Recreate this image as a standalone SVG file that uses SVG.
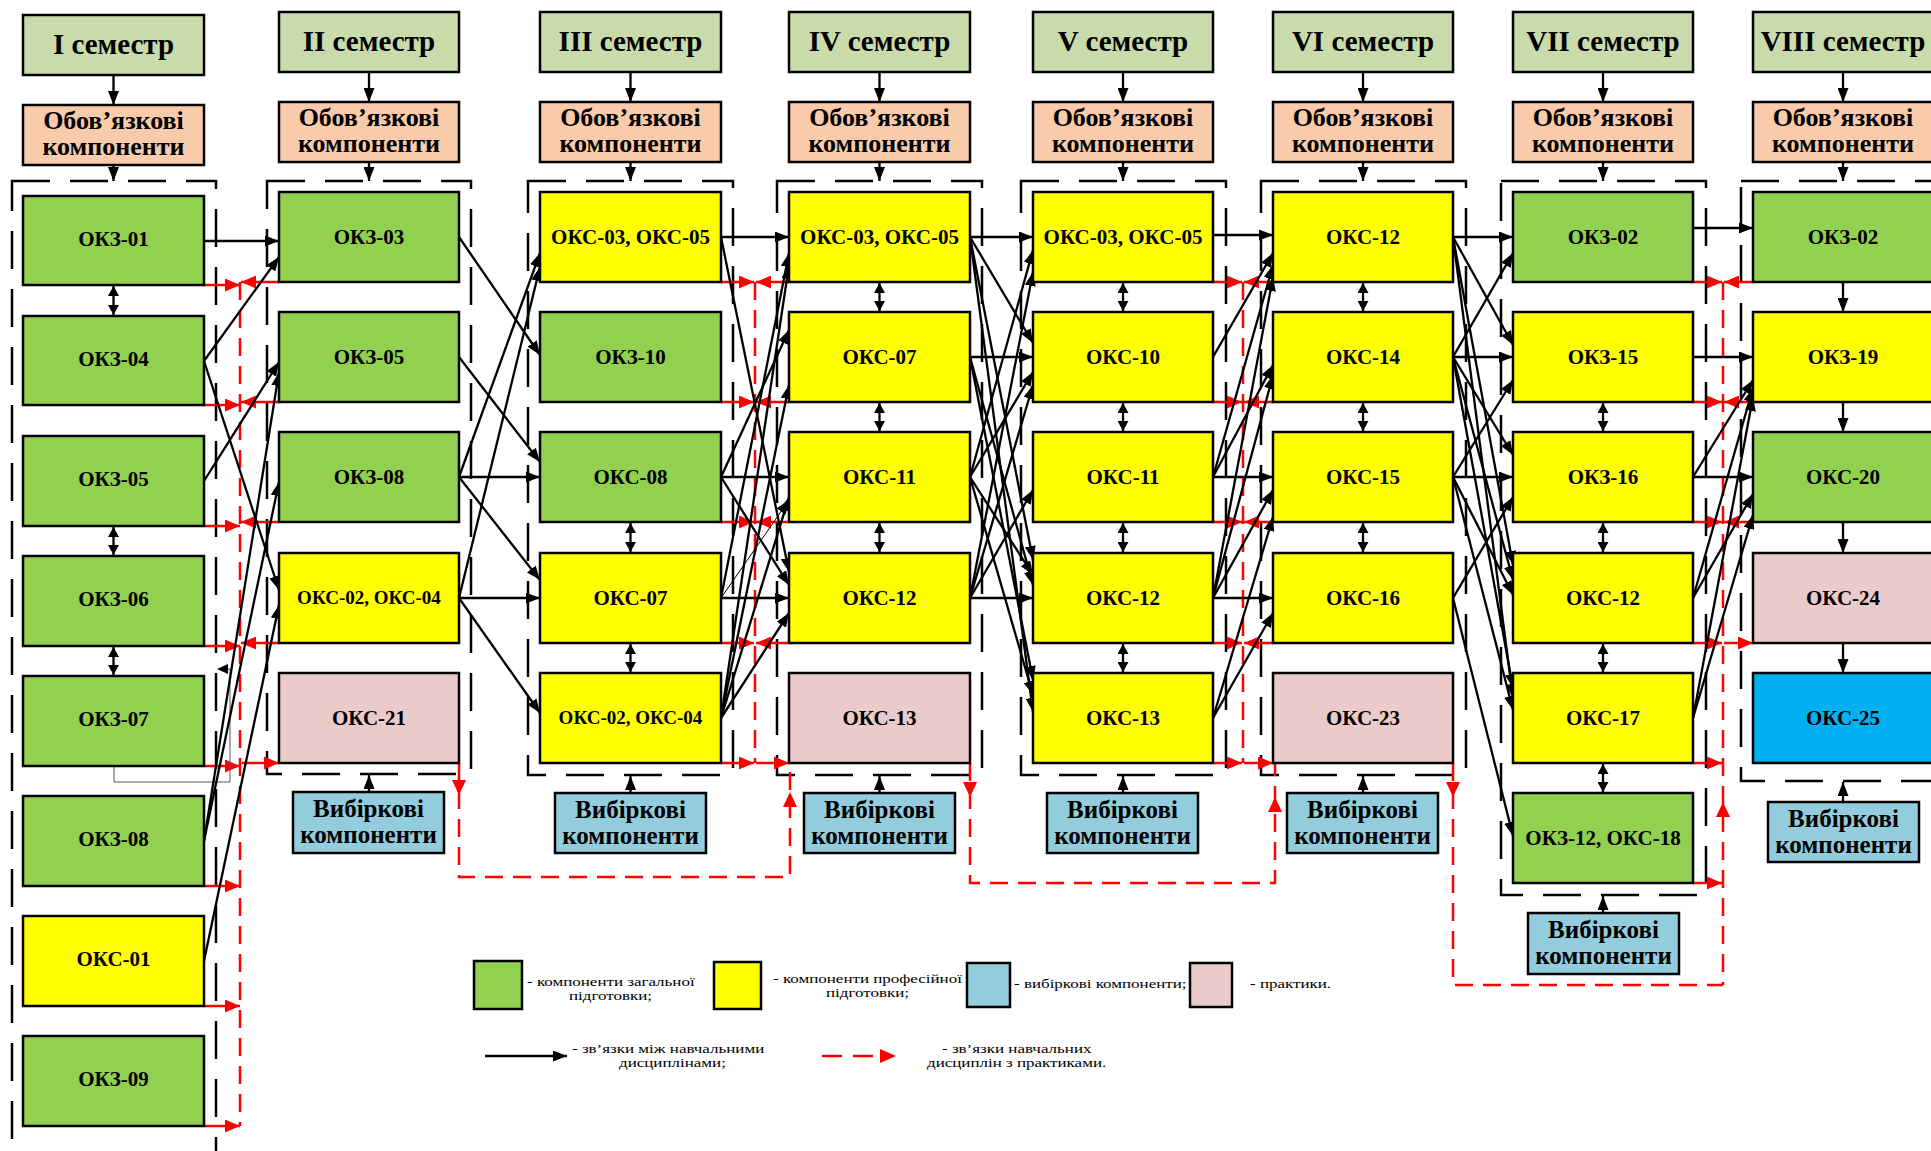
<svg xmlns="http://www.w3.org/2000/svg" width="1931" height="1151" viewBox="0 0 1931 1151">
<style>
.bx{stroke:#000;stroke-width:2.5}
.hd{fill:#CADBAB}
.ob{fill:#F9CBAA}
.g{fill:#92D050}
.y{fill:#FFFF00}
.p{fill:#EBCBC9}
.b{fill:#93CDDD}
.c{fill:#00B0F0}
.grp{fill:none;stroke:#000;stroke-width:2.5;stroke-dasharray:38 20}
.ln{stroke:#000;stroke-width:2.3;fill:none;marker-end:url(#ab)}
.thin{stroke:#000;stroke-width:1;fill:none;marker-end:url(#ab)}
.dbl{stroke:#000;stroke-width:2.3;marker-end:url(#ad);marker-start:url(#ad)}
.ra{stroke:#F00;stroke-width:2.5;fill:none;marker-end:url(#ar)}
.rd{stroke:#F00;stroke-width:2.5;fill:none;stroke-dasharray:18 10}
.rh{fill:#F00}
text{font-family:"Liberation Serif","Times New Roman",serif;fill:#000;text-anchor:middle}
.th{font-size:29px;font-weight:bold}
.to{font-size:26px;font-weight:bold}
.te{font-size:25px;font-weight:bold}
.tn{font-size:21px;font-weight:bold}
.ts{font-size:19px;font-weight:bold}
.tl{font-size:17px;text-anchor:start}
</style>
<defs>
<marker id="ab" viewBox="0 0 14 11" refX="14" refY="5.5" markerWidth="14" markerHeight="11" orient="auto-start-reverse" markerUnits="userSpaceOnUse"><path d="M0,0 L14,5.5 L0,11 z" fill="#000"/></marker>
<marker id="ad" viewBox="0 0 10 11" refX="10" refY="5.5" markerWidth="10" markerHeight="11" orient="auto-start-reverse" markerUnits="userSpaceOnUse"><path d="M0,0 L10,5.5 L0,11 z" fill="#000"/></marker>
<marker id="ar" viewBox="0 0 15 13" refX="15" refY="6.5" markerWidth="15" markerHeight="13" orient="auto" markerUnits="userSpaceOnUse"><path d="M0,0 L15,6.5 L0,13 z" fill="#F00"/></marker>
</defs>

<!-- group frames -->
<g id="frames">
<rect class="grp" x="12" y="181" width="204" height="1000"/>
<rect class="grp" x="267" y="181" width="204" height="593"/>
<rect class="grp" x="528" y="181" width="205" height="594"/>
<rect class="grp" x="777" y="181" width="205" height="594"/>
<rect class="grp" x="1021" y="181" width="205" height="594"/>
<rect class="grp" x="1261" y="181" width="205" height="594"/>
<rect class="grp" x="1501" y="181" width="205" height="714"/>
<rect class="grp" x="1741" y="181" width="205" height="600"/>
</g>

<!-- red practice connectors -->
<g id="practice-links">
<path class="rd" d="M240,282 V1126"/>
<path class="rd" d="M755,282 V763"/>
<path class="rd" d="M1243,282 V763"/>
<path class="rd" d="M1723,282 V985"/>
<path class="rd" d="M459,763 V877 H790 V763"/>
<path class="rd" d="M970,763 V883 H1275 V763"/>
<path class="rd" d="M1453,763 V985 H1723"/>
<path class="rh" d="M452,780 L466,780 L459,795 z"/>
<path class="rh" d="M783,807 L797,807 L790,792 z"/>
<path class="rh" d="M963,782 L977,782 L970,797 z"/>
<path class="rh" d="M1268,812 L1282,812 L1275,797 z"/>
<path class="rh" d="M1446,782 L1460,782 L1453,797 z"/>
<path class="rh" d="M1716,817 L1730,817 L1723,802 z"/>
<!-- I/II -->
<line class="ra" x1="204" y1="285" x2="240" y2="285"/>
<line class="ra" x1="204" y1="405" x2="240" y2="405"/>
<line class="ra" x1="204" y1="526" x2="240" y2="526"/>
<line class="ra" x1="204" y1="646" x2="240" y2="646"/>
<line class="ra" x1="204" y1="766" x2="240" y2="766"/>
<line class="ra" x1="204" y1="886" x2="240" y2="886"/>
<line class="ra" x1="204" y1="1006" x2="240" y2="1006"/>
<line class="ra" x1="204" y1="1126" x2="240" y2="1126"/>
<line class="ra" x1="279" y1="282" x2="241" y2="282"/>
<line class="ra" x1="279" y1="402" x2="241" y2="402"/>
<line class="ra" x1="279" y1="522" x2="241" y2="522"/>
<line class="ra" x1="279" y1="643" x2="241" y2="643"/>
<line class="ra" x1="242" y1="763" x2="279" y2="763"/>
<!-- III/IV -->
<line class="ra" x1="721" y1="282" x2="754" y2="282"/>
<line class="ra" x1="721" y1="402" x2="754" y2="402"/>
<line class="ra" x1="721" y1="522" x2="754" y2="522"/>
<line class="ra" x1="721" y1="643" x2="754" y2="643"/>
<line class="ra" x1="721" y1="763" x2="754" y2="763"/>
<line class="ra" x1="789" y1="282" x2="756" y2="282"/>
<line class="ra" x1="789" y1="402" x2="756" y2="402"/>
<line class="ra" x1="789" y1="522" x2="756" y2="522"/>
<line class="ra" x1="789" y1="643" x2="756" y2="643"/>
<line class="ra" x1="756" y1="763" x2="789" y2="763"/>
<!-- V/VI -->
<line class="ra" x1="1213" y1="282" x2="1242" y2="282"/>
<line class="ra" x1="1213" y1="402" x2="1242" y2="402"/>
<line class="ra" x1="1213" y1="522" x2="1242" y2="522"/>
<line class="ra" x1="1213" y1="643" x2="1242" y2="643"/>
<line class="ra" x1="1213" y1="763" x2="1242" y2="763"/>
<line class="ra" x1="1273" y1="282" x2="1244" y2="282"/>
<line class="ra" x1="1273" y1="402" x2="1244" y2="402"/>
<line class="ra" x1="1273" y1="522" x2="1244" y2="522"/>
<line class="ra" x1="1273" y1="643" x2="1244" y2="643"/>
<line class="ra" x1="1244" y1="763" x2="1273" y2="763"/>
<!-- VII/VIII -->
<line class="ra" x1="1693" y1="282" x2="1722" y2="282"/>
<line class="ra" x1="1693" y1="402" x2="1722" y2="402"/>
<line class="ra" x1="1693" y1="522" x2="1722" y2="522"/>
<line class="ra" x1="1693" y1="643" x2="1722" y2="643"/>
<line class="ra" x1="1693" y1="763" x2="1722" y2="763"/>
<line class="ra" x1="1693" y1="883" x2="1722" y2="883"/>
<line class="ra" x1="1753" y1="282" x2="1724" y2="282"/>
<line class="ra" x1="1753" y1="402" x2="1724" y2="402"/>
<line class="ra" x1="1753" y1="522" x2="1724" y2="522"/>
<line class="ra" x1="1724" y1="643" x2="1753" y2="643"/>
</g>

<!-- black discipline connectors -->
<g id="connectors">
<!-- headers -->
<line class="ln" x1="113.5" y1="75" x2="113.5" y2="105"/>
<line class="ln" x1="113.5" y1="165" x2="113.5" y2="181"/>
<line class="ln" x1="369" y1="72" x2="369" y2="102"/>
<line class="ln" x1="369" y1="162" x2="369" y2="181"/>
<line class="ln" x1="630.5" y1="72" x2="630.5" y2="102"/>
<line class="ln" x1="630.5" y1="162" x2="630.5" y2="181"/>
<line class="ln" x1="879.5" y1="72" x2="879.5" y2="102"/>
<line class="ln" x1="879.5" y1="162" x2="879.5" y2="181"/>
<line class="ln" x1="1123" y1="72" x2="1123" y2="102"/>
<line class="ln" x1="1123" y1="162" x2="1123" y2="181"/>
<line class="ln" x1="1363" y1="72" x2="1363" y2="102"/>
<line class="ln" x1="1363" y1="162" x2="1363" y2="181"/>
<line class="ln" x1="1603" y1="72" x2="1603" y2="102"/>
<line class="ln" x1="1603" y1="162" x2="1603" y2="181"/>
<line class="ln" x1="1843" y1="72" x2="1843" y2="102"/>
<line class="ln" x1="1843" y1="162" x2="1843" y2="181"/>
<!-- electives -->
<line class="ln" x1="369" y1="792" x2="369" y2="775"/>
<line class="ln" x1="630.5" y1="793" x2="630.5" y2="776"/>
<line class="ln" x1="879.5" y1="793" x2="879.5" y2="776"/>
<line class="ln" x1="1123" y1="793" x2="1123" y2="776"/>
<line class="ln" x1="1363" y1="793" x2="1363" y2="776"/>
<line class="ln" x1="1603" y1="913" x2="1603" y2="896"/>
<line class="ln" x1="1843" y1="802" x2="1843" y2="782"/>
<!-- vertical doubles -->
<line class="dbl" x1="113.5" y1="286" x2="113.5" y2="315"/>
<line class="dbl" x1="113.5" y1="527" x2="113.5" y2="555"/>
<line class="dbl" x1="113.5" y1="647" x2="113.5" y2="675"/>
<line class="dbl" x1="630.5" y1="523" x2="630.5" y2="552"/>
<line class="dbl" x1="630.5" y1="644" x2="630.5" y2="672"/>
<line class="dbl" x1="879.5" y1="283" x2="879.5" y2="311"/>
<line class="dbl" x1="879.5" y1="403" x2="879.5" y2="431"/>
<line class="dbl" x1="879.5" y1="523" x2="879.5" y2="552"/>
<line class="dbl" x1="1123" y1="283" x2="1123" y2="311"/>
<line class="dbl" x1="1123" y1="403" x2="1123" y2="431"/>
<line class="dbl" x1="1123" y1="523" x2="1123" y2="552"/>
<line class="dbl" x1="1123" y1="644" x2="1123" y2="672"/>
<line class="dbl" x1="1363" y1="283" x2="1363" y2="311"/>
<line class="dbl" x1="1363" y1="403" x2="1363" y2="431"/>
<line class="dbl" x1="1363" y1="523" x2="1363" y2="552"/>
<line class="dbl" x1="1603" y1="403" x2="1603" y2="431"/>
<line class="dbl" x1="1603" y1="523" x2="1603" y2="552"/>
<line class="dbl" x1="1603" y1="644" x2="1603" y2="672"/>
<line class="dbl" x1="1603" y1="764" x2="1603" y2="792"/>
<line class="ln" x1="1843" y1="282" x2="1843" y2="312"/>
<line class="ln" x1="1843" y1="402" x2="1843" y2="432"/>
<line class="ln" x1="1843" y1="522" x2="1843" y2="553"/>
<line class="ln" x1="1843" y1="643" x2="1843" y2="673"/>
<!-- thin loop from OKZ-07 -->
<polyline points="114,766 114,782 230,782 230,669 219,669" fill="none" stroke="#555" stroke-width="1"/>
<path d="M217,669 L228,664 L228,674 z" fill="#000"/>
<!-- I -> II -->
<line class="ln" x1="204" y1="241" x2="279" y2="241"/>
<line class="ln" x1="204" y1="361" x2="279" y2="257"/>
<line class="ln" x1="204" y1="361" x2="279" y2="590"/>
<line class="ln" x1="204" y1="481" x2="279" y2="362"/>
<line class="ln" x1="204" y1="841" x2="279" y2="372"/>
<line class="ln" x1="204" y1="841" x2="279" y2="482"/>
<line class="ln" x1="204" y1="961" x2="279" y2="605"/>
<!-- II -> III -->
<line class="ln" x1="459" y1="237" x2="540" y2="355"/>
<line class="ln" x1="459" y1="357" x2="540" y2="462"/>
<line class="ln" x1="459" y1="477" x2="540" y2="477"/>
<line class="ln" x1="459" y1="477" x2="540" y2="580"/>
<line class="ln" x1="459" y1="477" x2="540" y2="253"/>
<line class="ln" x1="459" y1="598" x2="540" y2="598"/>
<line class="ln" x1="459" y1="598" x2="540" y2="713"/>
<line class="ln" x1="459" y1="598" x2="540" y2="267"/>
<!-- III -> IV -->
<line class="ln" x1="721" y1="237" x2="789" y2="237"/>
<line class="ln" x1="721" y1="237" x2="789" y2="572"/>
<line class="ln" x1="721" y1="477" x2="789" y2="477"/>
<line class="ln" x1="721" y1="477" x2="789" y2="330"/>
<line class="ln" x1="721" y1="477" x2="789" y2="585"/>
<line class="ln" x1="721" y1="598" x2="789" y2="598"/>
<line class="ln" x1="721" y1="598" x2="789" y2="253"/>
<line class="thin" x1="721" y1="598" x2="789" y2="500"/>
<line class="ln" x1="721" y1="718" x2="789" y2="385"/>
<line class="ln" x1="721" y1="718" x2="789" y2="497"/>
<line class="ln" x1="721" y1="718" x2="789" y2="613"/>
<line class="ln" x1="721" y1="718" x2="789" y2="265"/>
<!-- IV -> V -->
<line class="ln" x1="970" y1="237" x2="1033" y2="237"/>
<line class="ln" x1="970" y1="237" x2="1033" y2="343"/>
<line class="ln" x1="970" y1="237" x2="1033" y2="560"/>
<line class="ln" x1="970" y1="237" x2="1033" y2="712"/>
<line class="ln" x1="970" y1="357" x2="1033" y2="357"/>
<line class="ln" x1="970" y1="357" x2="1033" y2="585"/>
<line class="ln" x1="970" y1="357" x2="1033" y2="680"/>
<line class="ln" x1="970" y1="477" x2="1033" y2="250"/>
<line class="ln" x1="970" y1="477" x2="1033" y2="372"/>
<line class="ln" x1="970" y1="477" x2="1033" y2="575"/>
<line class="ln" x1="970" y1="477" x2="1033" y2="695"/>
<line class="ln" x1="970" y1="598" x2="1033" y2="598"/>
<line class="ln" x1="970" y1="598" x2="1033" y2="490"/>
<line class="ln" x1="970" y1="598" x2="1033" y2="272"/>
<line class="ln" x1="970" y1="598" x2="1033" y2="385"/>
<!-- V -> VI -->
<line class="ln" x1="1213" y1="235" x2="1273" y2="235"/>
<line class="ln" x1="1213" y1="357" x2="1273" y2="253"/>
<line class="ln" x1="1213" y1="477" x2="1273" y2="265"/>
<line class="ln" x1="1213" y1="477" x2="1273" y2="477"/>
<line class="ln" x1="1213" y1="477" x2="1273" y2="365"/>
<line class="ln" x1="1213" y1="598" x2="1273" y2="277"/>
<line class="ln" x1="1213" y1="598" x2="1273" y2="598"/>
<line class="ln" x1="1213" y1="598" x2="1273" y2="490"/>
<line class="ln" x1="1213" y1="598" x2="1273" y2="375"/>
<line class="ln" x1="1213" y1="718" x2="1273" y2="613"/>
<line class="ln" x1="1213" y1="718" x2="1273" y2="517"/>
<!-- VI -> VII -->
<line class="ln" x1="1453" y1="237" x2="1513" y2="237"/>
<line class="ln" x1="1453" y1="237" x2="1513" y2="345"/>
<line class="ln" x1="1453" y1="237" x2="1513" y2="565"/>
<line class="ln" x1="1453" y1="237" x2="1513" y2="698"/>
<line class="ln" x1="1453" y1="357" x2="1513" y2="357"/>
<line class="ln" x1="1453" y1="357" x2="1513" y2="253"/>
<line class="ln" x1="1453" y1="357" x2="1513" y2="455"/>
<line class="ln" x1="1453" y1="357" x2="1513" y2="580"/>
<line class="ln" x1="1453" y1="357" x2="1513" y2="688"/>
<line class="ln" x1="1453" y1="477" x2="1513" y2="477"/>
<line class="ln" x1="1453" y1="477" x2="1513" y2="380"/>
<line class="ln" x1="1453" y1="477" x2="1513" y2="595"/>
<line class="ln" x1="1453" y1="477" x2="1513" y2="710"/>
<line class="ln" x1="1453" y1="598" x2="1513" y2="497"/>
<line class="ln" x1="1453" y1="598" x2="1513" y2="836"/>
<!-- VII -> VIII -->
<line class="ln" x1="1693" y1="228" x2="1753" y2="228"/>
<line class="ln" x1="1693" y1="357" x2="1753" y2="357"/>
<line class="ln" x1="1693" y1="477" x2="1753" y2="477"/>
<line class="ln" x1="1693" y1="477" x2="1753" y2="380"/>
<line class="ln" x1="1693" y1="598" x2="1753" y2="388"/>
<line class="ln" x1="1693" y1="598" x2="1753" y2="494"/>
<line class="ln" x1="1693" y1="718" x2="1753" y2="397"/>
<line class="ln" x1="1693" y1="718" x2="1753" y2="515"/>
</g>

<!-- headers -->
<g id="sem1"><rect class="bx hd" x="23" y="15" width="181" height="60"/><text class="th" x="113.5" y="54">I семестр</text></g>
<g id="sem2"><rect class="bx hd" x="279" y="12" width="180" height="60"/><text class="th" x="369" y="51">II семестр</text></g>
<g id="sem3"><rect class="bx hd" x="540" y="12" width="181" height="60"/><text class="th" x="630.5" y="51">III семестр</text></g>
<g id="sem4"><rect class="bx hd" x="789" y="12" width="181" height="60"/><text class="th" x="879.5" y="51">IV семестр</text></g>
<g id="sem5"><rect class="bx hd" x="1033" y="12" width="180" height="60"/><text class="th" x="1123" y="51">V семестр</text></g>
<g id="sem6"><rect class="bx hd" x="1273" y="12" width="180" height="60"/><text class="th" x="1363" y="51">VI семестр</text></g>
<g id="sem7"><rect class="bx hd" x="1513" y="12" width="180" height="60"/><text class="th" x="1603" y="51">VII семестр</text></g>
<g id="sem8"><rect class="bx hd" x="1753" y="12" width="181" height="60"/><text class="th" x="1843" y="51">VIII семестр</text></g>

<!-- mandatory -->
<g id="ob1"><rect class="bx ob" x="23" y="105" width="181" height="60"/><text class="to" x="113.5" y="129">Обов’язкові</text><text class="to" x="113.5" y="155">компоненти</text></g>
<g id="ob2"><rect class="bx ob" x="279" y="102" width="180" height="60"/><text class="to" x="369" y="126">Обов’язкові</text><text class="to" x="369" y="152">компоненти</text></g>
<g id="ob3"><rect class="bx ob" x="540" y="102" width="181" height="60"/><text class="to" x="630.5" y="126">Обов’язкові</text><text class="to" x="630.5" y="152">компоненти</text></g>
<g id="ob4"><rect class="bx ob" x="789" y="102" width="181" height="60"/><text class="to" x="879.5" y="126">Обов’язкові</text><text class="to" x="879.5" y="152">компоненти</text></g>
<g id="ob5"><rect class="bx ob" x="1033" y="102" width="180" height="60"/><text class="to" x="1123" y="126">Обов’язкові</text><text class="to" x="1123" y="152">компоненти</text></g>
<g id="ob6"><rect class="bx ob" x="1273" y="102" width="180" height="60"/><text class="to" x="1363" y="126">Обов’язкові</text><text class="to" x="1363" y="152">компоненти</text></g>
<g id="ob7"><rect class="bx ob" x="1513" y="102" width="180" height="60"/><text class="to" x="1603" y="126">Обов’язкові</text><text class="to" x="1603" y="152">компоненти</text></g>
<g id="ob8"><rect class="bx ob" x="1753" y="102" width="181" height="60"/><text class="to" x="1843" y="126">Обов’язкові</text><text class="to" x="1843" y="152">компоненти</text></g>

<!-- electives -->
<g id="el2"><rect class="bx b" x="293" y="792" width="151" height="61"/><text class="te" x="368.5" y="817">Вибіркові</text><text class="te" x="368.5" y="843">компоненти</text></g>
<g id="el3"><rect class="bx b" x="555" y="793" width="151" height="60"/><text class="te" x="630.5" y="818">Вибіркові</text><text class="te" x="630.5" y="844">компоненти</text></g>
<g id="el4"><rect class="bx b" x="804" y="793" width="151" height="60"/><text class="te" x="879.5" y="818">Вибіркові</text><text class="te" x="879.5" y="844">компоненти</text></g>
<g id="el5"><rect class="bx b" x="1047" y="793" width="151" height="60"/><text class="te" x="1122.5" y="818">Вибіркові</text><text class="te" x="1122.5" y="844">компоненти</text></g>
<g id="el6"><rect class="bx b" x="1287" y="793" width="151" height="60"/><text class="te" x="1362.5" y="818">Вибіркові</text><text class="te" x="1362.5" y="844">компоненти</text></g>
<g id="el7"><rect class="bx b" x="1528" y="913" width="151" height="61"/><text class="te" x="1603.5" y="938">Вибіркові</text><text class="te" x="1603.5" y="964">компоненти</text></g>
<g id="el8"><rect class="bx b" x="1768" y="802" width="151" height="60"/><text class="te" x="1843.5" y="827">Вибіркові</text><text class="te" x="1843.5" y="853">компоненти</text></g>

<!-- column I -->
<g id="c1-okz01"><rect class="bx g" x="23" y="196" width="181" height="89"/><text class="tn" x="113.5" y="246">ОКЗ-01</text></g>
<g id="c1-okz04"><rect class="bx g" x="23" y="316" width="181" height="89"/><text class="tn" x="113.5" y="366">ОКЗ-04</text></g>
<g id="c1-okz05"><rect class="bx g" x="23" y="436" width="181" height="90"/><text class="tn" x="113.5" y="486">ОКЗ-05</text></g>
<g id="c1-okz06"><rect class="bx g" x="23" y="556" width="181" height="90"/><text class="tn" x="113.5" y="606">ОКЗ-06</text></g>
<g id="c1-okz07"><rect class="bx g" x="23" y="676" width="181" height="90"/><text class="tn" x="113.5" y="726">ОКЗ-07</text></g>
<g id="c1-okz08"><rect class="bx g" x="23" y="796" width="181" height="90"/><text class="tn" x="113.5" y="846">ОКЗ-08</text></g>
<g id="c1-oks01"><rect class="bx y" x="23" y="916" width="181" height="90"/><text class="tn" x="113.5" y="966">ОКС-01</text></g>
<g id="c1-okz09"><rect class="bx g" x="23" y="1036" width="181" height="90"/><text class="tn" x="113.5" y="1086">ОКЗ-09</text></g>

<!-- column II -->
<g id="c2-okz03"><rect class="bx g" x="279" y="192" width="180" height="90"/><text class="tn" x="369" y="244">ОКЗ-03</text></g>
<g id="c2-okz05"><rect class="bx g" x="279" y="312" width="180" height="90"/><text class="tn" x="369" y="364">ОКЗ-05</text></g>
<g id="c2-okz08"><rect class="bx g" x="279" y="432" width="180" height="90"/><text class="tn" x="369" y="484">ОКЗ-08</text></g>
<g id="c2-oks0204"><rect class="bx y" x="279" y="553" width="180" height="90"/><text class="ts" x="369" y="604">ОКС-02, ОКС-04</text></g>
<g id="c2-oks21"><rect class="bx p" x="279" y="673" width="180" height="90"/><text class="tn" x="369" y="725">ОКС-21</text></g>

<!-- column III -->
<g id="c3-oks0305"><rect class="bx y" x="540" y="192" width="181" height="90"/><text class="tn" x="630.5" y="244">ОКС-03, ОКС-05</text></g>
<g id="c3-okz10"><rect class="bx g" x="540" y="312" width="181" height="90"/><text class="tn" x="630.5" y="364">ОКЗ-10</text></g>
<g id="c3-oks08"><rect class="bx g" x="540" y="432" width="181" height="90"/><text class="tn" x="630.5" y="484">ОКС-08</text></g>
<g id="c3-oks07"><rect class="bx y" x="540" y="553" width="181" height="90"/><text class="tn" x="630.5" y="605">ОКС-07</text></g>
<g id="c3-oks0204"><rect class="bx y" x="540" y="673" width="181" height="90"/><text class="ts" x="630.5" y="724">ОКС-02, ОКС-04</text></g>

<!-- column IV -->
<g id="c4-oks0305"><rect class="bx y" x="789" y="192" width="181" height="90"/><text class="tn" x="879.5" y="244">ОКС-03, ОКС-05</text></g>
<g id="c4-oks07"><rect class="bx y" x="789" y="312" width="181" height="90"/><text class="tn" x="879.5" y="364">ОКС-07</text></g>
<g id="c4-oks11"><rect class="bx y" x="789" y="432" width="181" height="90"/><text class="tn" x="879.5" y="484">ОКС-11</text></g>
<g id="c4-oks12"><rect class="bx y" x="789" y="553" width="181" height="90"/><text class="tn" x="879.5" y="605">ОКС-12</text></g>
<g id="c4-oks13"><rect class="bx p" x="789" y="673" width="181" height="90"/><text class="tn" x="879.5" y="725">ОКС-13</text></g>

<!-- column V -->
<g id="c5-oks0305"><rect class="bx y" x="1033" y="192" width="180" height="90"/><text class="tn" x="1123" y="244">ОКС-03, ОКС-05</text></g>
<g id="c5-oks10"><rect class="bx y" x="1033" y="312" width="180" height="90"/><text class="tn" x="1123" y="364">ОКС-10</text></g>
<g id="c5-oks11"><rect class="bx y" x="1033" y="432" width="180" height="90"/><text class="tn" x="1123" y="484">ОКС-11</text></g>
<g id="c5-oks12"><rect class="bx y" x="1033" y="553" width="180" height="90"/><text class="tn" x="1123" y="605">ОКС-12</text></g>
<g id="c5-oks13"><rect class="bx y" x="1033" y="673" width="180" height="90"/><text class="tn" x="1123" y="725">ОКС-13</text></g>

<!-- column VI -->
<g id="c6-oks12"><rect class="bx y" x="1273" y="192" width="180" height="90"/><text class="tn" x="1363" y="244">ОКС-12</text></g>
<g id="c6-oks14"><rect class="bx y" x="1273" y="312" width="180" height="90"/><text class="tn" x="1363" y="364">ОКС-14</text></g>
<g id="c6-oks15"><rect class="bx y" x="1273" y="432" width="180" height="90"/><text class="tn" x="1363" y="484">ОКС-15</text></g>
<g id="c6-oks16"><rect class="bx y" x="1273" y="553" width="180" height="90"/><text class="tn" x="1363" y="605">ОКС-16</text></g>
<g id="c6-oks23"><rect class="bx p" x="1273" y="673" width="180" height="90"/><text class="tn" x="1363" y="725">ОКС-23</text></g>

<!-- column VII -->
<g id="c7-okz02"><rect class="bx g" x="1513" y="192" width="180" height="90"/><text class="tn" x="1603" y="244">ОКЗ-02</text></g>
<g id="c7-okz15"><rect class="bx y" x="1513" y="312" width="180" height="90"/><text class="tn" x="1603" y="364">ОКЗ-15</text></g>
<g id="c7-okz16"><rect class="bx y" x="1513" y="432" width="180" height="90"/><text class="tn" x="1603" y="484">ОКЗ-16</text></g>
<g id="c7-oks12"><rect class="bx y" x="1513" y="553" width="180" height="90"/><text class="tn" x="1603" y="605">ОКС-12</text></g>
<g id="c7-oks17"><rect class="bx y" x="1513" y="673" width="180" height="90"/><text class="tn" x="1603" y="725">ОКС-17</text></g>
<g id="c7-okz12oks18"><rect class="bx g" x="1513" y="793" width="180" height="90"/><text class="tn" x="1603" y="845">ОКЗ-12, ОКС-18</text></g>

<!-- column VIII -->
<g id="c8-okz02"><rect class="bx g" x="1753" y="192" width="181" height="90"/><text class="tn" x="1843" y="244">ОКЗ-02</text></g>
<g id="c8-okz19"><rect class="bx y" x="1753" y="312" width="181" height="90"/><text class="tn" x="1843" y="364">ОКЗ-19</text></g>
<g id="c8-oks20"><rect class="bx g" x="1753" y="432" width="181" height="90"/><text class="tn" x="1843" y="484">ОКС-20</text></g>
<g id="c8-oks24"><rect class="bx p" x="1753" y="553" width="181" height="90"/><text class="tn" x="1843" y="605">ОКС-24</text></g>
<g id="c8-oks25"><rect class="bx c" x="1753" y="673" width="181" height="90"/><text class="tn" x="1843" y="725">ОКС-25</text></g>

<!-- legend -->
<g id="legend">
<rect class="bx g" x="474" y="961" width="48" height="48"/>
<text class="tl" transform="translate(527,986) scale(1,0.76)">- компоненти загальної</text>
<text class="tl" transform="translate(569,1000) scale(1,0.76)">підготовки;</text>
<rect class="bx y" x="714" y="962" width="47" height="47"/>
<text class="tl" transform="translate(773,983) scale(1,0.76)">- компоненти професійної</text>
<text class="tl" transform="translate(826,997) scale(1,0.76)">підготовки;</text>
<rect class="bx b" x="967" y="963" width="43" height="44"/>
<text class="tl" transform="translate(1014,988) scale(1,0.76)">- вибіркові компоненти;</text>
<rect class="bx p" x="1190" y="963" width="42" height="44"/>
<text class="tl" transform="translate(1250,988) scale(1,0.76)">- практики.</text>
<line class="ln" x1="485" y1="1056" x2="567" y2="1056"/>
<text class="tl" transform="translate(572,1053) scale(1,0.76)">- зв’язки між навчальними</text>
<text class="tl" transform="translate(619,1067) scale(1,0.76)">дисциплінами;</text>
<line x1="822" y1="1056" x2="880" y2="1056" stroke="#F00" stroke-width="2.5" stroke-dasharray="20 11"/>
<path d="M880,1049 L896,1056 L880,1063 z" fill="#F00"/>
<text class="tl" transform="translate(942,1053) scale(1,0.76)">- зв’язки навчальних</text>
<text class="tl" transform="translate(927,1067) scale(1,0.76)">дисциплін з практиками.</text>
</g>
</svg>
